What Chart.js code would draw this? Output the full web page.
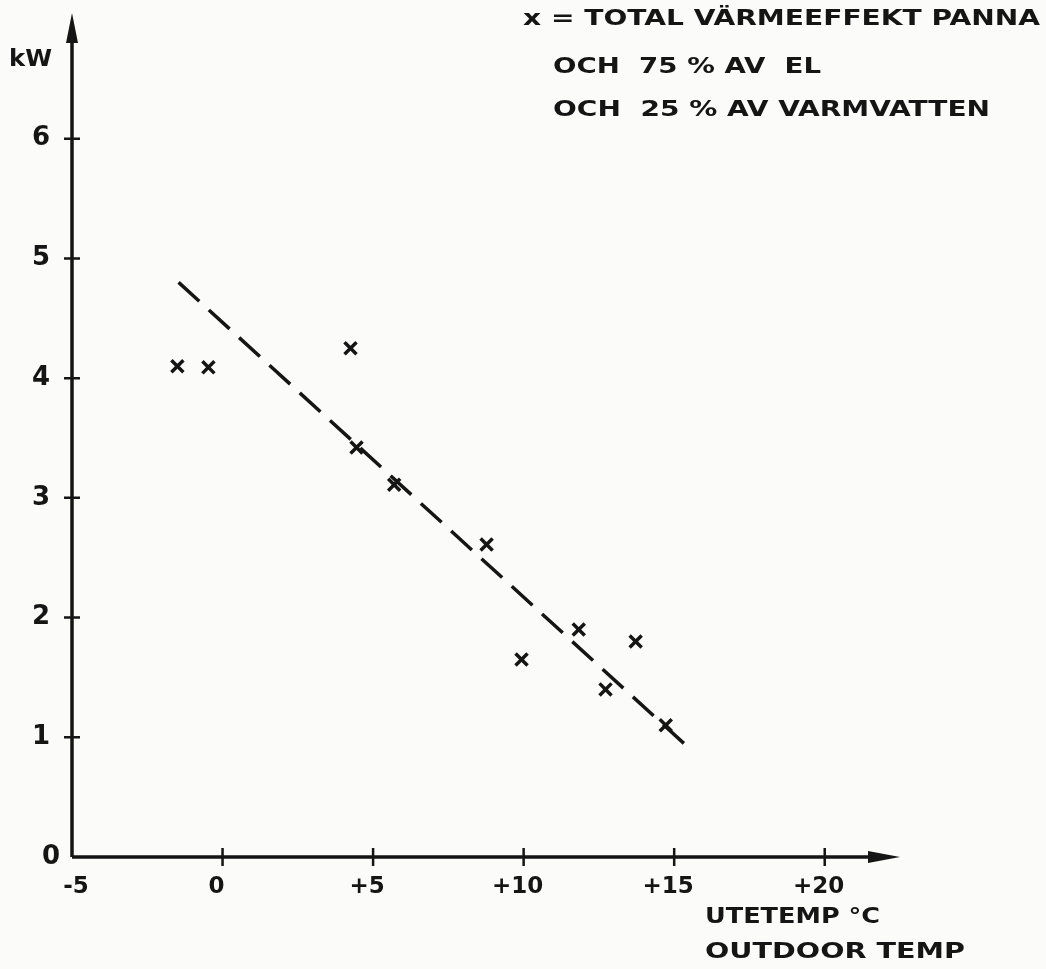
<!DOCTYPE html>
<html>
<head>
<meta charset="utf-8">
<script src="https://cdn.jsdelivr.net/npm/chart.js@4"></script>
<style>
  html, body { margin: 0; padding: 0; background: #fbfbfa; }
  #wrap { width: 1046px; height: 969px; position: relative; }
</style>
</head>
<body>
<div id="wrap"><canvas id="c"></canvas></div>
<script>
'use strict';

// measured points: outdoor temp (°C) vs heat output (kW)
const tempC = [-1.5, -0.47, 4.25, 4.45, 5.7, 8.77, 9.93, 11.83, 12.72, 13.72, 14.72];
const powerKW = [4.10, 4.09, 4.25, 3.42, 3.11, 2.61, 1.65, 1.90, 1.40, 1.80, 1.10];

// dashed fit line end points
const fitTemp = [-1.46, 15.45];
const fitKW = [4.80, 0.92];

const xTicks = [-5, 0, 5, 10, 15, 20];
const xTickLabels = ['-5', '0', '+5', '+10', '+15', '+20'];
const yTicks = [0, 1, 2, 3, 4, 5, 6];
const yTickLabels = ['0', '1', '2', '3', '4', '5', '6'];

const legendLines = ['x = TOTAL VÄRMEEFFEKT PANNA', 'OCH  75 % AV  EL', 'OCH  25 % AV VARMVATTEN'];
const yTitle = 'kW';
const xTitle = ['UTETEMP °C', 'OUTDOOR TEMP'];

const INK = '#151515';
const FONT = '"DejaVu Sans", sans-serif';

// draw text stretched horizontally to a given width (hand lettering is wide)
function wideText(ctx, text, x, y, width) {
  const w = ctx.measureText(text).width;
  ctx.save();
  ctx.translate(x, y);
  ctx.scale(width / w, 1);
  ctx.fillText(text, 0, 0);
  ctx.restore();
}

const axesPlugin = {
  id: 'handAxes',
  afterDraw(chart) {
    const { ctx, chartArea: a, scales: { x, y } } = chart;
    const x0 = a.left, y0 = a.bottom;
    ctx.save();
    ctx.strokeStyle = INK;
    ctx.fillStyle = INK;
    ctx.lineWidth = 3.5;
    ctx.lineCap = 'butt';

    // axis lines
    ctx.beginPath();
    ctx.moveTo(x0, y0); ctx.lineTo(x0, a.top + 20);
    ctx.moveTo(x0, y0); ctx.lineTo(a.right - 20, y0);
    ctx.stroke();

    // arrow heads
    ctx.beginPath();
    ctx.moveTo(x0, a.top); ctx.lineTo(x0 - 6, a.top + 30); ctx.lineTo(x0 + 6, a.top + 30); ctx.closePath();
    ctx.moveTo(a.right, y0); ctx.lineTo(a.right - 32, y0 - 6); ctx.lineTo(a.right - 32, y0 + 6); ctx.closePath();
    ctx.fill();

    // tick marks crossing axes
    ctx.lineWidth = 2.5;
    ctx.beginPath();
    yTicks.forEach(v => {
      if (v === 0) return;
      const py = y.getPixelForValue(v);
      ctx.moveTo(x0 - 8, py); ctx.lineTo(x0 + 8, py);
    });
    xTicks.forEach(v => {
      if (v === -5) return;
      const px = x.getPixelForValue(v);
      ctx.moveTo(px, y0 - 9); ctx.lineTo(px, y0 + 9);
    });
    ctx.stroke();

    // tick labels
    ctx.font = '600 26px ' + FONT;
    ctx.textAlign = 'right';
    ctx.textBaseline = 'middle';
    yTicks.forEach((v, i) => {
      const py = y.getPixelForValue(v);
      ctx.fillText(yTickLabels[i], v === 0 ? x0 - 12 : x0 - 22, py);
    });
    ctx.font = '600 23px ' + FONT;
    ctx.textAlign = 'center';
    ctx.textBaseline = 'top';
    xTicks.forEach((v, i) => {
      const px = x.getPixelForValue(v);
      ctx.fillText(xTickLabels[i], px - (i === 0 ? -4 : 6), y0 + 19);
    });

    // axis titles
    ctx.font = '600 23px ' + FONT;
    ctx.textAlign = 'left';
    ctx.textBaseline = 'middle';
    wideText(ctx, yTitle, 9, 60, 43);
    ctx.font = '600 22px ' + FONT;
    wideText(ctx, xTitle[0], 705, 917, 175);
    wideText(ctx, xTitle[1], 705, 952, 260);

    // legend text top right
    ctx.font = '600 21px ' + FONT;
    wideText(ctx, legendLines[0], 523, 20, 517);
    wideText(ctx, legendLines[1], 553, 68, 268);
    wideText(ctx, legendLines[2], 553, 111, 437);
    ctx.restore();
  }
};

new Chart(document.getElementById('c'), {
  type: 'scatter',
  data: {
    datasets: [
      {
        label: 'data',
        data: tempC.map((t, i) => ({ x: t, y: powerKW[i] })),
        pointStyle: 'crossRot',
        pointRadius: 8.5,
        pointBorderWidth: 3.5,
        borderColor: INK,
        backgroundColor: INK
      },
      {
        type: 'line',
        label: 'fit',
        data: fitTemp.map((t, i) => ({ x: t, y: fitKW[i] })),
        borderColor: INK,
        borderWidth: 3.5,
        borderDash: [28, 13],
        pointRadius: 0,
        fill: false
      }
    ]
  },
  options: {
    responsive: true,
    maintainAspectRatio: false,
    animation: false,
    layout: { padding: { left: 72, top: 13, right: 146, bottom: 112 } },
    plugins: { legend: { display: false }, tooltip: { enabled: false } },
    scales: {
      x: {
        type: 'linear', min: -5, max: 22.5,
        grid: { display: false, drawTicks: false },
        border: { display: false },
        ticks: { display: false }
      },
      y: {
        type: 'linear', min: 0, max: 7.05,
        grid: { display: false, drawTicks: false },
        border: { display: false },
        ticks: { display: false }
      }
    }
  },
  plugins: [axesPlugin]
});
</script>
</body>
</html>
